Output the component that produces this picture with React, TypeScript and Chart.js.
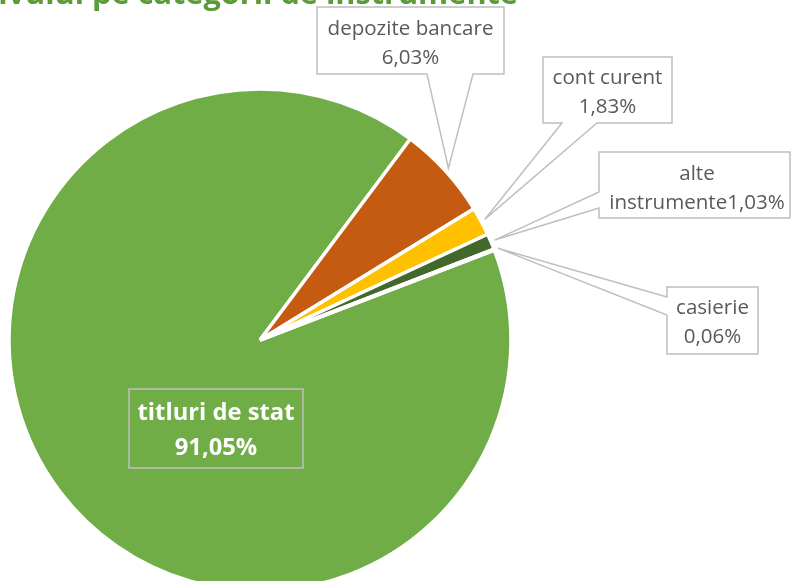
import React, { useEffect, useRef } from 'react';
import { Chart, registerables } from 'chart.js';

Chart.register(...registerables);

// ---- data ----
const titleText = 'Structura activului pe categorii de instrumente';
const categories = ['titluri de stat', 'depozite bancare', 'cont curent', 'alte instrumente', 'casierie'];
const shares = [91.05, 6.03, 1.83, 1.03, 0.06];
const labelLine1 = ['titluri de stat', 'depozite bancare', 'cont curent', 'alte', 'casierie'];
const labelLine2Prefix = ['', '', '', 'instrumente', ''];
const sliceColors = ['#70AD47', '#C55A11', '#FFC000', '#43682B', '#A5A5A5'];

const fmtPct = (v: number) => v.toFixed(2).replace('.', ',') + '%';

type Box = {
  x0: number; y0: number; x1: number; y1: number;
  side: 'none' | 'bottom' | 'left';
  w?: [number, number];
  cx: number; ly: [number, number];
  inside?: boolean;
};

// layout of callouts (per slice index)
const boxes: Box[] = [
  { x0: 129, y0: 389, x1: 303, y1: 468, side: 'none', cx: 216, ly: [413, 448], inside: true },
  { x0: 317, y0: 7, x1: 504, y1: 74, side: 'bottom', w: [427, 473], cx: 410.5, ly: [29, 58] },
  { x0: 543, y0: 57, x1: 672, y1: 123, side: 'bottom', w: [562, 597], cx: 607.5, ly: [78, 107] },
  { x0: 599, y0: 152, x1: 790, y1: 218, side: 'left', w: [192, 208], cx: 697, ly: [174, 203] },
  { x0: 667, y0: 287, x1: 758, y1: 354, side: 'left', w: [297, 315], cx: 712.5, ly: [308, 337] },
];

const FAMILY = '"Open Sans", "DejaVu Sans", sans-serif';

function fitSize(ctx: CanvasRenderingContext2D, text: string, target: number, weight: string) {
  ctx.font = `${weight} 100px ${FAMILY}`;
  const w = ctx.measureText(text).width;
  return (100 * target) / w;
}

const calloutPlugin = {
  id: 'callouts',
  afterDraw(chart: any) {
    const ctx: CanvasRenderingContext2D = chart.ctx;
    const meta = chart.getDatasetMeta(0);
    const normalSize = fitSize(ctx, 'depozite bancare', 166, 'normal');
    const boldSize = fitSize(ctx, 'titluri de stat', 157, 'bold');
    const titleSize = fitSize(ctx, 'pe categorii de instrumente', 426, 'bold');

    ctx.save();
    // title (partially clipped at top, as in the reference)
    ctx.font = `bold ${titleSize}px ${FAMILY}`;
    ctx.fillStyle = '#5B9B3A';
    ctx.textAlign = 'right';
    ctx.textBaseline = 'alphabetic';
    ctx.fillText(titleText, 518, 4);

    meta.data.forEach((arc: any, i: number) => {
      const b = boxes[i];
      if (!b) return;
      const p = arc.getProps(['x', 'y', 'startAngle', 'endAngle', 'outerRadius'], true);
      const mid = (p.startAngle + p.endAngle) / 2;
      const r = p.outerRadius + 4;
      const tx = p.x + Math.cos(mid) * r;
      const ty = p.y + Math.sin(mid) * r;

      ctx.beginPath();
      if (b.side === 'bottom' && b.w) {
        ctx.moveTo(b.x0, b.y0);
        ctx.lineTo(b.x1, b.y0);
        ctx.lineTo(b.x1, b.y1);
        ctx.lineTo(b.w[1], b.y1);
        ctx.lineTo(tx, ty);
        ctx.lineTo(b.w[0], b.y1);
        ctx.lineTo(b.x0, b.y1);
        ctx.closePath();
      } else if (b.side === 'left' && b.w) {
        ctx.moveTo(b.x0, b.y0);
        ctx.lineTo(b.x1, b.y0);
        ctx.lineTo(b.x1, b.y1);
        ctx.lineTo(b.x0, b.y1);
        ctx.lineTo(b.x0, b.w[1]);
        ctx.lineTo(tx, ty);
        ctx.lineTo(b.x0, b.w[0]);
        ctx.closePath();
      } else {
        ctx.rect(b.x0, b.y0, b.x1 - b.x0, b.y1 - b.y0);
      }
      if (!b.inside) {
        ctx.fillStyle = '#FFFFFF';
        ctx.fill();
      }
      ctx.strokeStyle = '#BFBFBF';
      ctx.lineWidth = 1.5;
      ctx.lineJoin = 'miter';
      ctx.stroke();

      ctx.textAlign = 'center';
      ctx.textBaseline = 'middle';
      if (b.inside) {
        ctx.font = `bold ${boldSize}px ${FAMILY}`;
        ctx.fillStyle = '#FFFFFF';
      } else {
        ctx.font = `normal ${normalSize}px ${FAMILY}`;
        ctx.fillStyle = '#595959';
      }
      ctx.fillText(labelLine1[i], b.cx, b.ly[0]);
      ctx.fillText(labelLine2Prefix[i] + fmtPct(shares[i]), b.cx, b.ly[1]);
    });
    ctx.restore();
  },
};

export default function App() {
  const ref = useRef<HTMLCanvasElement | null>(null);

  useEffect(() => {
    document.body.style.margin = '0';
    document.documentElement.style.overflow = 'hidden';
    if (!ref.current) return;
    const chart = new Chart(ref.current, {
      type: 'pie',
      data: {
        labels: categories,
        datasets: [
          {
            data: shares,
            backgroundColor: sliceColors,
            borderColor: '#FFFFFF',
            borderWidth: 3.5,
          },
        ],
      },
      options: {
        responsive: false,
        animation: false,
        devicePixelRatio: 1,
        rotation: 69,
        radius: 251,
        layout: { padding: { left: 10, right: 282, top: 90, bottom: 10 } },
        plugins: {
          legend: { display: false },
          tooltip: { enabled: false },
          title: { display: false },
        },
      },
      plugins: [calloutPlugin],
    });
    return () => chart.destroy();
  }, []);

  return (
    <div style={{ width: 792, height: 581, overflow: 'hidden', position: 'relative' }}>
      <canvas ref={ref} width={792} height={600} style={{ display: 'block' }} />
    </div>
  );
}
